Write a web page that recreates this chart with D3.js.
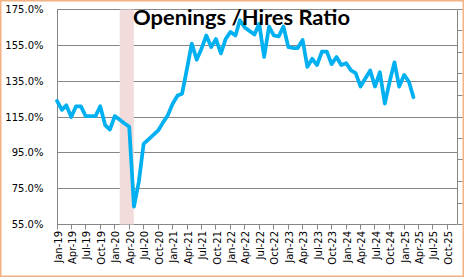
<!DOCTYPE html>
<html>
<head>
<meta charset="utf-8">
<script src="https://cdn.jsdelivr.net/npm/d3@7"></script>
<style>
  html, body { margin: 0; padding: 0; background: #fff; }
  svg { display: block; }
</style>
</head>
<body>
<svg id="chart" width="464" height="277"></svg>
<script>
// Openings / Hires ratio (%), monthly from Jan-19
const firstMonth = new Date(2019, 0, 1);
const ratio = [
  124, 119, 121.5, 115, 121, 121, 115.5, 115.5, 115.5, 121, 110.5, 108,      // 2019
  115.5, 113.5, 111.5, 109.5, 65, 79, 100, 102.5, 105, 107.5, 112, 116,     // 2020
  122.5, 127, 128, 142, 156, 147, 153, 160.5, 154, 158.5, 150.5, 158.5,      // 2021
  162.5, 160.5, 169, 165, 163, 161, 167, 148.5, 165.5, 160.5, 160, 165.5,   // 2022
  154, 153.5, 153.5, 158, 143, 147.5, 144, 151.5, 151.5, 144.5, 148.5, 144, // 2023
  145, 141, 139.5, 132, 136.5, 141, 132, 140, 122.5, 134.5, 145.5, 132,     // 2024
  138.5, 134.5, 126                                                          // 2025
];
const yTicks = [55, 75, 95, 115, 135, 155, 175];
const xDomain = [new Date(2019, 0, 1), new Date(2025, 11, 1)];
const recession = [new Date(2020, 1, 1), new Date(2020, 3, 30)];
const secondaryTicks = d3.range(0, 1.01, 0.1);
const title = "Openings /Hires Ratio";

const lineColor = "#00B0F0";
const gridColor = "#868686";
const shadeColor = "#F2DCDB";
const borderColor = "#F4B183";

const plot = { left: 57, right: 457, top: 9.5, bottom: 224.5 };

const svg = d3.select("#chart");
const snap = (v) => Math.round(v - 0.5) + 0.5;

const series = ratio.map((v, i) => ({ date: d3.timeMonth.offset(firstMonth, i), value: v }));

const x = d3.scaleTime().domain(xDomain).range([plot.left, plot.right]);
const y = d3.scaleLinear().domain([55, 175]).range([plot.bottom, plot.top]);
const y2 = d3.scaleLinear().domain([0, 1]).range([plot.bottom, plot.top]);

// outer chart border
svg.append("rect")
  .attr("x", 0.75).attr("y", 0.75)
  .attr("width", 462.5).attr("height", 275.5)
  .attr("fill", "#fff")
  .attr("stroke", borderColor)
  .attr("stroke-width", 1.5);

// horizontal gridlines
svg.append("g")
  .selectAll("line")
  .data(yTicks)
  .enter().append("line")
  .attr("x1", plot.left).attr("x2", plot.right)
  .attr("y1", (d) => snap(y(d))).attr("y2", (d) => snap(y(d)))
  .attr("stroke", gridColor)
  .attr("stroke-width", 1);

// recession shading (column on secondary axis)
svg.append("rect")
  .attr("x", x(recession[0]))
  .attr("width", x(recession[1]) - x(recession[0]))
  .attr("y", y2(1))
  .attr("height", y2(0) - y2(1))
  .attr("fill", shadeColor);

// left axis: labels only + vertical line
svg.append("line")
  .attr("x1", snap(plot.left)).attr("x2", snap(plot.left))
  .attr("y1", snap(y(175))).attr("y2", snap(y(55)))
  .attr("stroke", gridColor);

svg.append("g")
  .selectAll("text")
  .data(yTicks)
  .enter().append("text")
  .attr("x", 43.5)
  .attr("y", (d) => y(d))
  .attr("dy", "0.36em")
  .attr("text-anchor", "end")
  .style("font-family", "'DejaVu Sans', Verdana, sans-serif")
  .style("font-size", "10px")
  .attr("fill", "#000")
  .text((d) => d3.format(".1f")(d) + "%");

// right (secondary) axis, ticks without labels
const rightAxis = svg.append("g").attr("transform", `translate(${snap(plot.right)},0)`);
rightAxis.append("line")
  .attr("y1", snap(y(175))).attr("y2", snap(y(55)))
  .attr("stroke", gridColor);
rightAxis.selectAll("line.tick")
  .data(secondaryTicks)
  .enter().append("line")
  .attr("class", "tick")
  .attr("x1", 0).attr("x2", 5)
  .attr("y1", (d) => snap(y2(d))).attr("y2", (d) => snap(y2(d)))
  .attr("stroke", gridColor);

// bottom axis ticks and rotated labels
const xTicks = d3.timeMonth.range(xDomain[0], d3.timeMonth.offset(xDomain[1], 1), 3);
const bottom = svg.append("g");
bottom.selectAll("line")
  .data(xTicks)
  .enter().append("line")
  .attr("x1", (d) => snap(x(d))).attr("x2", (d) => snap(x(d)))
  .attr("y1", snap(y(55))).attr("y2", snap(y(55)) + 5)
  .attr("stroke", gridColor);
bottom.selectAll("text")
  .data(xTicks)
  .enter().append("text")
  .attr("transform", (d) => `translate(${x(d) + 1},${231}) rotate(-90)`)
  .attr("dy", "0.36em")
  .attr("text-anchor", "end")
  .style("font-family", "'DejaVu Sans', Verdana, sans-serif")
  .style("font-size", "10px")
  .attr("fill", "#000")
  .text((d) => d3.timeFormat("%b-%y")(d));

// ratio line
const line = d3.line()
  .x((d) => x(d.date))
  .y((d) => y(d.value));

svg.append("path")
  .datum(series)
  .attr("d", line)
  .attr("fill", "none")
  .attr("stroke", lineColor)
  .attr("stroke-width", 3.75)
  .attr("stroke-linejoin", "round")
  .attr("stroke-linecap", "round");

// title
const titleText = svg.append("text")
  .attr("x", 133)
  .attr("y", 24.5)
  .style("font-family", "Lato, 'Liberation Sans', sans-serif")
  .style("font-weight", "bold")
  .style("font-size", "20px")
  .attr("fill", "#000")
  .text(title);
const titleWidth = titleText.node().getComputedTextLength();
if (Math.abs(titleWidth - 217) > 2) {
  titleText.attr("textLength", 217).attr("lengthAdjust", "spacingAndGlyphs");
}
</script>
</body>
</html>
